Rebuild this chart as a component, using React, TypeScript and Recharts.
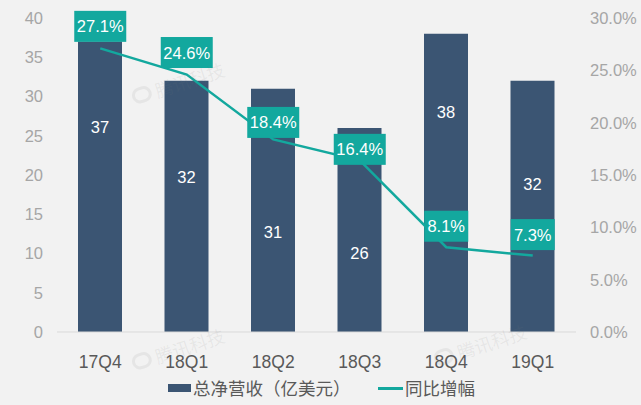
import { ComposedChart, Bar, Line, XAxis, YAxis, Legend, LabelList } from "recharts";

const categories = ["17Q4", "18Q1", "18Q2", "18Q3", "18Q4", "19Q1"];
const revenue = [37, 32, 31, 26, 38, 32];
const growth = [27.1, 24.6, 18.4, 16.4, 8.1, 7.3];
const revenueTicks = [0, 5, 10, 15, 20, 25, 30, 35, 40];
const growthTicks = [0, 5, 10, 15, 20, 25, 30];

const data = categories.map((name, i) => ({
    name,
    revenue: revenue[i],
    growth: growth[i]
}));

// the labels were dragged by hand in the original, so each one has its own gap
const revenueLabelDrop = [85, 96, 143, 125, 78, 103];
const growthLabelRise = [22, 22, 17, 11, 21, 21];

const FONT = "'Liberation Sans', Arial, sans-serif";
const BAR_COLOR = "#3b5573";
const LINE_COLOR = "#13a89e";

const RevenueLabel = ({ x, y, width, value, index }: any) => (
    <text
        x={x + width / 2}
        y={y + revenueLabelDrop[index]}
        fill="#ffffff"
        fontSize={16.5}
        fontFamily={FONT}
        textAnchor="middle"
        dominantBaseline="central"
    >
        {value}
    </text>
);

const GrowthLabel = ({ x, y, value, index }: any) => {
    const text = value.toFixed(1) + "%";
    const boxWidth = text.length > 4 ? 52 : 44;
    const cy = y - growthLabelRise[index];
    return (
        <g>
            <rect x={x - boxWidth / 2} y={cy - 15.5} width={boxWidth} height={31} fill={LINE_COLOR} />
            <text
                x={x}
                y={cy}
                fill="#ffffff"
                fontSize={16.5}
                fontFamily={FONT}
                textAnchor="middle"
                dominantBaseline="central"
            >
                {text}
            </text>
        </g>
    );
};

const ChartLegend = () => (
    <div style={{ position: "relative", height: 24, fontFamily: "'Noto Sans CJK SC'", fontSize: 17.5, color: "#595959" }}>
        <span style={{ position: "absolute", left: 168, top: 8, width: 23, height: 8, background: BAR_COLOR }} />
        <span style={{ position: "absolute", left: 193, top: 0, lineHeight: "24px", whiteSpace: "nowrap" }}>总净营收（亿美元）</span>
        <span style={{ position: "absolute", left: 378, top: 11, width: 25, height: 3, background: LINE_COLOR }} />
        <span style={{ position: "absolute", left: 405, top: 0, lineHeight: "24px", whiteSpace: "nowrap" }}>同比增幅</span>
    </div>
);

const watermarks = [
    { left: 130, top: 70 },
    { left: 130, top: 336 },
    { left: 432, top: 332 }
];

const App = () => {
    return (
        <div style={{ position: "absolute", left: 0, top: 0, width: 641, height: 405, background: "#f2f2f2", overflow: "hidden" }}>
            <ComposedChart
                width={641}
                height={405}
                data={data}
                barSize={44}
                margin={{ top: 18, right: 0, bottom: 9, left: 17 }}
            >
                <XAxis
                    dataKey="name"
                    height={40}
                    axisLine={{ stroke: "#d9d9d9" }}
                    tickLine={false}
                    tickMargin={18}
                    tick={{ fill: "#595959", fontSize: 17.5, fontFamily: FONT }}
                />
                <YAxis
                    yAxisId="left"
                    width={40}
                    domain={[0, 40]}
                    ticks={revenueTicks}
                    axisLine={false}
                    tickLine={false}
                    tickMargin={8}
                    tick={{ fill: "#a6a6a6", fontSize: 16.5, fontFamily: FONT }}
                />
                <YAxis
                    yAxisId="right"
                    orientation="right"
                    width={65}
                    domain={[0, 30]}
                    ticks={growthTicks}
                    tickFormatter={(v: number) => v.toFixed(1) + "%"}
                    axisLine={false}
                    tickLine={false}
                    tickMargin={8}
                    tick={{ fill: "#a6a6a6", fontSize: 16.5, fontFamily: FONT }}
                />
                <Legend content={<ChartLegend />} verticalAlign="bottom" wrapperStyle={{ left: 0, bottom: 5, width: 641 }} />
                <Bar yAxisId="left" dataKey="revenue" name="总净营收（亿美元）" fill={BAR_COLOR} isAnimationActive={false}>
                    <LabelList dataKey="revenue" content={<RevenueLabel />} />
                </Bar>
                <Line
                    yAxisId="right"
                    dataKey="growth"
                    name="同比增幅"
                    type="linear"
                    stroke={LINE_COLOR}
                    strokeWidth={2.5}
                    dot={false}
                    isAnimationActive={false}
                >
                    <LabelList dataKey="growth" content={<GrowthLabel />} />
                </Line>
            </ComposedChart>
            {watermarks.map((w, i) => (
                <div
                    key={i}
                    style={{
                        position: "absolute",
                        left: w.left,
                        top: w.top,
                        fontFamily: "'Noto Sans CJK SC'",
                        fontSize: 18,
                        color: "rgba(120,120,120,0.1)",
                        transform: "rotate(-18deg)",
                        whiteSpace: "nowrap"
                    }}
                >
                    <span
                        style={{
                            display: "inline-block",
                            width: 14,
                            height: 10,
                            marginRight: 4,
                            border: "3px solid rgba(120,120,120,0.1)",
                            borderRadius: 8
                        }}
                    />
                    腾讯科技
                </div>
            ))}
        </div>
    );
};

export default App;
